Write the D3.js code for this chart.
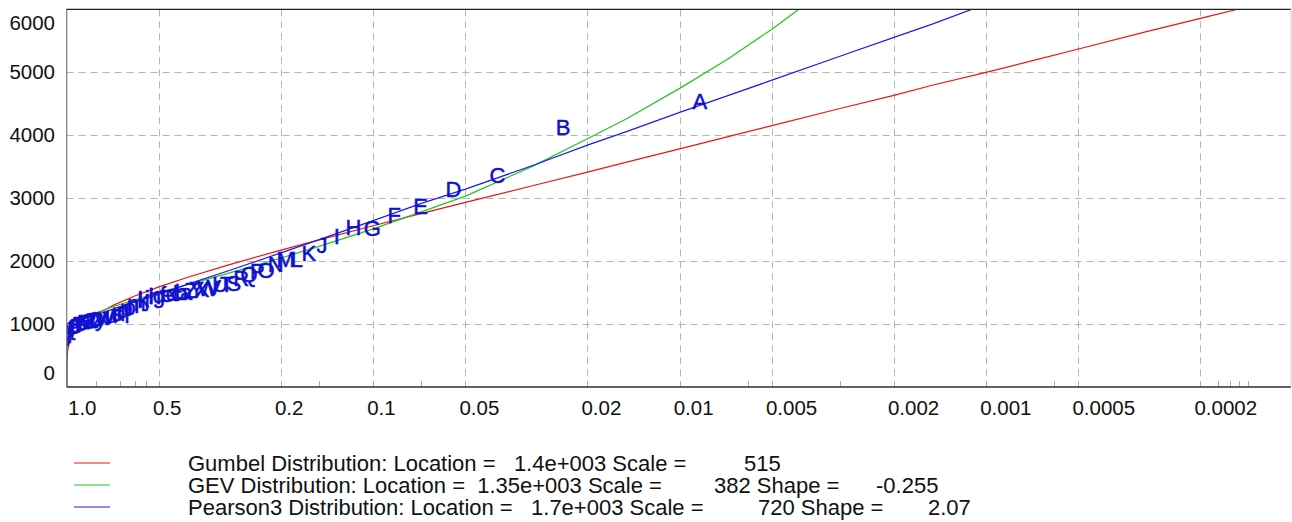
<!DOCTYPE html>
<html>
<head>
<meta charset="utf-8">
<script src="https://cdn.jsdelivr.net/npm/d3@7"></script>
<style>
  html, body { margin: 0; padding: 0; background: #fff; }
  svg { display: block; font-family: "Liberation Sans", Arial, sans-serif; }
</style>
</head>
<body>
<svg id="chart" width="1292" height="522"></svg>
<script>
// ---------- data ----------
const xTickValues = [1, 0.5, 0.2, 0.1, 0.05, 0.02, 0.01, 0.005, 0.002, 0.001, 0.0005, 0.0002];
const xTickLabels = ["1.0", "0.5", "0.2", "0.1", "0.05", "0.02", "0.01", "0.005", "0.002", "0.001", "0.0005", "0.0002"];
const xMinorTicks = [0.8, 0.67, 0.6, 0.55, 0.15, 0.07, 0.006, 0.003, 0.0006, 0.000175, 0.00016, 0.00015, 0.00014];
const yTickValues = [0, 1000, 2000, 3000, 4000, 5000, 6000];
const yTickLabels = ["0", "1000", "2000", "3000", "4000", "5000", "6000"];

const curveProbs = [1, 0.999, 0.995, 0.99, 0.98, 0.95, 0.9, 0.8, 0.7, 0.6, 0.5, 0.4, 0.3, 0.2, 0.15, 0.1,
  0.07, 0.05, 0.03, 0.02, 0.015, 0.01, 0.007, 0.005, 0.003, 0.002, 0.0015, 0.001, 0.0007, 0.0005,
  0.0003, 0.0002, 0.00015, 0.0001];
const gumbelValues = [0, 405, 541, 614, 698, 835, 971, 1155, 1304, 1445, 1589, 1746, 1931, 2172, 2336, 2559,
  2751, 2930, 3198, 3410, 3565, 3780, 3970, 4150, 4420, 4630, 4790, 4995, 5185, 5365,
  5640, 5850, 6000, 6215];
const gevValues = [0, 767, 831, 867, 910, 984, 1063, 1179, 1281, 1384, 1497, 1630, 1800, 2048, 2233, 2511,
  2776, 3030, 3510, 3940, 4250, 4740, 5200, 5680, 6480, null, null, null, null, null,
  null, null, null, null];
const pearsonValues = [0, 1005, 1007, 1010, 1017, 1034, 1069, 1147, 1243, 1352, 1475, 1636, 1837, 2130, 2340, 2640,
  2910, 3140, 3520, 3840, 4050, 4360, 4620, 4870, 5250, 5550, 5760, 6080, null, null,
  null, null, null, null];

const obsLabels = ["A","B","C","D","E","F","G","H","I","J","K","L","M","N","O","P","Q","R","S","T","U","V","W","X","Y","Z",
  "a","b","c","d","e","f","g","h","i","j","k","l","m","n","o","p","q","r","s","t","u","v","w","x","y","z",
  "0","1","2","3","4","5","6","7","8","9","{","|","}"];
const obsProbs = [0.0086, 0.0240, 0.0393, 0.0547, 0.0700, 0.0854, 0.1007, 0.1161, 0.1315, 0.1468, 0.1622, 0.1775, 0.1929,
  0.2082, 0.2236, 0.2389, 0.2543, 0.2697, 0.2850, 0.3004, 0.3157, 0.3311, 0.3464, 0.3618, 0.3772, 0.3925,
  0.4079, 0.4232, 0.4386, 0.4539, 0.4693, 0.4846, 0.5000, 0.5154, 0.5307, 0.5461, 0.5614, 0.5768, 0.5921,
  0.6075, 0.6229, 0.6382, 0.6536, 0.6689, 0.6843, 0.6996, 0.7150, 0.7303, 0.7457, 0.7611, 0.7764, 0.7918,
  0.8071, 0.8225, 0.8378, 0.8532, 0.8686, 0.8839, 0.8993, 0.9146, 0.9300, 0.9453, 0.9607, 0.9760, 0.9914];
const obsValues = [4540, 4130, 3370, 3150, 2880, 2735, 2530, 2540, 2400, 2250, 2130, 2035, 2035,
  1960, 1850, 1835, 1800, 1730, 1650, 1640, 1630, 1580, 1570, 1560, 1550, 1540,
  1510, 1505, 1500, 1490, 1480, 1470, 1460, 1450, 1440, 1420, 1400, 1380, 1330,
  1300, 1270, 1250, 1230, 1200, 1180, 1160, 1150, 1130, 1120, 1110, 1100, 1090,
  1080, 1070, 1060, 1050, 1040, 1030, 1020, 1000, 990, 970, 950, 900, 850];

const legendNames = ["Gumbel Distribution: Location =   1.4e+003 Scale =",
                     "GEV Distribution: Location =  1.35e+003 Scale =",
                     "Pearson3 Distribution: Location =   1.7e+003 Scale ="];
const legendScale = ["515", "382 Shape =", "720 Shape ="];
const legendShape = ["", "-0.255", "2.07"];
const seriesColors = ["#f01414", "#22c422", "#1c1cf0"];

// ---------- layout ----------
const svg = d3.select("#chart");
const pLeft = 66.7, pRight = 1291, pTop = 9.3, pBottom = 387;
const x = d3.scaleLog().domain([1, 0.0001]).range([pLeft, 1292.7]);
const y = d3.scaleLinear().domain([0, 6000]).range([pBottom, 9]);

svg.append("defs").append("clipPath").attr("id", "plotclip")
  .append("rect").attr("x", pLeft).attr("y", pTop).attr("width", pRight - pLeft).attr("height", pBottom - pTop);

// grid
const grid = svg.append("g").attr("stroke", "#b4b4b4").attr("stroke-width", 1).attr("stroke-dasharray", "7,5");
grid.selectAll("line.h").data(yTickValues.filter(v => v > 0 && v < 6000)).enter().append("line")
  .attr("x1", pLeft).attr("x2", pRight)
  .attr("y1", d => Math.round(y(d)) + 0.5).attr("y2", d => Math.round(y(d)) + 0.5);
grid.selectAll("line.v").data(xTickValues.slice(1)).enter().append("line")
  .attr("x1", d => Math.round(x(d)) + 0.5).attr("x2", d => Math.round(x(d)) + 0.5)
  .attr("y1", pTop).attr("y2", pBottom);

// ticks
const ticks = svg.append("g").attr("stroke", "#aaaaaa").attr("stroke-width", 1);
ticks.selectAll("line").data(xTickValues.slice(1).concat(xMinorTicks)).enter().append("line")
  .attr("x1", d => Math.round(x(d)) + 0.5).attr("x2", d => Math.round(x(d)) + 0.5)
  .attr("y1", pBottom - 6).attr("y2", pBottom);

// curves
const plot = svg.append("g").attr("clip-path", "url(#plotclip)");
const seriesValues = [gumbelValues, gevValues, pearsonValues];
seriesValues.forEach((vals, i) => {
  const pts = curveProbs.map((p, j) => [p, vals[j]]);
  const line = d3.line().defined(d => d[1] !== null).x(d => x(d[0])).y(d => y(d[1]));
  plot.append("path").attr("d", line(pts)).attr("fill", "none")
    .attr("stroke", seriesColors[i]).attr("stroke-width", 1.2);
});

// observations as letters
plot.selectAll("text.obs").data(obsLabels).enter().append("text")
  .attr("x", (d, i) => x(obsProbs[i]))
  .attr("y", (d, i) => y(obsValues[i]) + 8)
  .attr("text-anchor", "middle")
  .attr("font-size", 22)
  .attr("fill", "#1010d0")
  .attr("stroke", "#1010d0").attr("stroke-width", 0.5)
  .text(d => d);

// frame
svg.append("line").attr("x1", pLeft).attr("x2", pLeft).attr("y1", pTop).attr("y2", pBottom)
  .attr("stroke", "#7a7a7a").attr("stroke-width", 1.2);
svg.append("line").attr("x1", pLeft).attr("x2", pRight).attr("y1", pTop).attr("y2", pTop)
  .attr("stroke", "#222").attr("stroke-width", 1.2);
svg.append("line").attr("x1", pLeft).attr("x2", pRight).attr("y1", pBottom).attr("y2", pBottom)
  .attr("stroke", "#2a2a3a").attr("stroke-width", 1.4);
svg.append("line").attr("x1", pRight).attr("x2", pRight).attr("y1", pTop).attr("y2", pBottom)
  .attr("stroke", "#cccccc").attr("stroke-width", 1);

// x labels
svg.selectAll("text.xl").data(xTickValues).enter().append("text")
  .attr("x", d => Math.max(x(d) - 6, 68))
  .attr("y", 415)
  .attr("font-size", 20.5).attr("fill", "#111")
  .text((d, i) => xTickLabels[i]);

// y labels
svg.selectAll("text.yl").data(yTickValues).enter().append("text")
  .attr("x", 55)
  .attr("y", d => Math.min(Math.max(y(d) + 7, 30), 380))
  .attr("text-anchor", "end")
  .attr("font-size", 20.5).attr("fill", "#111")
  .text((d, i) => yTickLabels[i]);

// legend
const leg = svg.append("g");
legendNames.forEach((name, i) => {
  const by = 471 + i * 22;
  leg.append("line").attr("x1", 74).attr("x2", 110).attr("y1", by - 8).attr("y2", by - 8)
    .attr("stroke", seriesColors[i]).attr("stroke-width", 1.2);
  leg.append("text").attr("x", 188).attr("y", by).attr("font-size", 22).attr("fill", "#111")
    .attr("xml:space", "preserve").style("white-space", "pre").text(name);
  leg.append("text").attr("x", [744, 714, 758][i]).attr("y", by).attr("font-size", 22).attr("fill", "#111")
    .text(legendScale[i]);
  if (legendShape[i]) {
    leg.append("text").attr("x", [0, 876, 928][i]).attr("y", by).attr("font-size", 22).attr("fill", "#111")
      .text(legendShape[i]);
  }
});
</script>
</body>
</html>
